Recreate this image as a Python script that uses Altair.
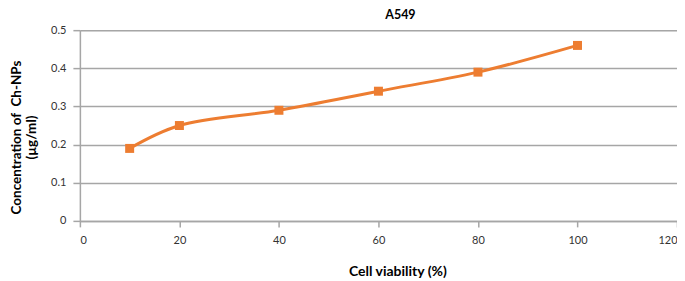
import altair as alt
import pandas as pd

viability = [10, 20, 40, 60, 80, 100]
concentration = [0.19, 0.25, 0.29, 0.34, 0.39, 0.46]

df = pd.DataFrame({"x": viability, "y": concentration})

FONT = "Lato"
ORANGE = "#ED7D31"
GRID = "#A6A6A6"

base = alt.Chart(df)

xenc = alt.X("x:Q", scale=alt.Scale(domain=[0, 120], nice=False),
             axis=alt.Axis(values=[0, 20, 40, 60, 80, 100, 120], tickCount=20, title="Cell viability (%)",
                           grid=False, domainColor=GRID, domainWidth=1.5,
                           tickColor=GRID, tickSize=6, tickWidth=1.5, labelOverlap=False,
                           labelFont=FONT, labelFontSize=11, labelColor="#333333", labelPadding=8,
                           titleFont=FONT, titleFontSize=14, titleFontWeight="bold", titleColor="#000000",
                           titleX=318, titleY=51, titleAlign="center", titleBaseline="middle"))
yenc = alt.Y("y:Q", scale=alt.Scale(domain=[0, 0.5], nice=False),
             axis=alt.Axis(values=[0, 0.1, 0.2, 0.3, 0.4, 0.5], tickCount=20, format=".1~f",
                           title=["Concentration of\u00a0 Ch-NPs", "(µg/ml)"], labelOverlap=False,
                           gridColor=GRID, gridWidth=1.5,
                           domainColor=GRID, domainWidth=1.5,
                           tickColor=GRID, tickSize=7, tickWidth=1.5,
                           labelFont=FONT, labelFontSize=11, labelColor="#333333", labelPadding=7,
                           titleFont=FONT, titleFontSize=13.5, titleFontWeight="bold", titleColor="#000000",
                           titleAngle=-90, titleX=-70, titleY=107, titleAlign="center",
                           titleBaseline="top", titleLineHeight=15))

line = base.mark_line(color=ORANGE, strokeWidth=3, interpolate="catmull-rom").encode(x=xenc, y=yenc)
pts = base.mark_square(color=ORANGE, size=81, opacity=1).encode(x="x:Q", y="y:Q")

chart = (line + pts).properties(
    width=598, height=191,
    title=alt.TitleParams("A549", font=FONT, fontSize=12.5, fontWeight="bold", color="#000000",
                          anchor="middle", dx=22, offset=3),
    padding={"left": 72, "top": 22, "right": 0, "bottom": 60},
    autosize=alt.AutoSizeParams(type="none"),
).configure_view(stroke=None).configure(background="white")

chart.save("out.html", embed_options={"renderer": "svg", "actions": False})
